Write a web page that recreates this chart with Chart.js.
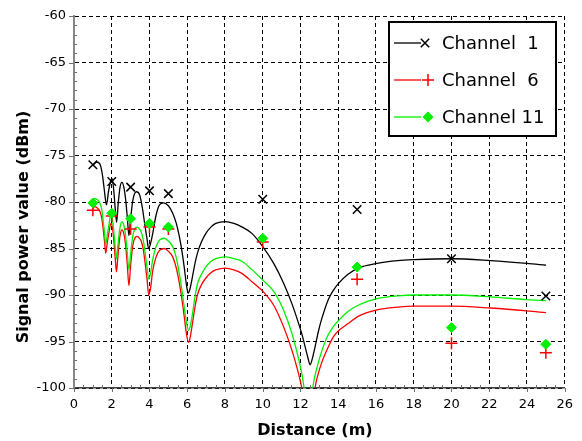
<!DOCTYPE html>
<html>
<head>
<meta charset="utf-8">
<script src="https://cdn.jsdelivr.net/npm/chart.js@4.4.1/dist/chart.umd.min.js"></script>
<style>
html,body{margin:0;padding:0;background:#fff;}
canvas{display:block;}
</style>
</head>
<body>
<canvas id="c" width="582" height="441"></canvas>
<script>
// ---- Data ----
const seriesNames = ["Channel  1", "Channel  6", "Channel 11"];
const xTickLabels = [0, 2, 4, 6, 8, 10, 12, 14, 16, 18, 20, 22, 24, 26];
const yTickLabels = [-100, -95, -90, -85, -80, -75, -70, -65, -60];

// measured points (markers)
const markerX = [1, 2, 3, 4, 5, 10, 15, 20, 25];
const ch1Measured = [-76.0, -77.8, -78.4, -78.8, -79.1, -79.7, -80.8, -86.1, -90.1];
const ch6Measured = [-80.9, -81.5, -82.9, -82.7, -82.9, -84.3, -88.3, -95.2, -96.2];
const ch11Measured = [-80.1, -81.2, -81.8, -82.3, -82.7, -83.9, -87.0, -93.5, -95.3];

// model curves
const ch1CurveX = [1.0,1.2,1.37,1.5,1.6,1.72,1.82,1.92,2.02,2.1,2.18,2.26,2.34,2.44,2.54,2.64,2.74,2.83,2.91,3.0,3.12,3.3,3.47,3.62,3.75,3.87,3.95,4.05,4.17,4.35,4.53,4.74,5.0,5.23,5.42,5.58,5.72,5.84,5.95,6.05,6.15,6.28,6.4,6.54,6.75,6.98,7.25,7.51,8.03,8.47,8.91,9.44,10.0,10.58,11.1,11.54,11.89,12.1,12.25,12.4,12.51,12.62,12.77,12.95,13.12,13.47,13.74,14.04,14.5,15.05,16.05,17.16,18.03,20.0,22.07,24.0,25.0];
const ch1CurveY = [-76.1,-75.7,-75.9,-77.0,-78.6,-80.3,-79.0,-77.9,-77.5,-78.6,-80.6,-82.2,-80.2,-78.4,-77.9,-78.4,-79.8,-81.8,-83.6,-81.8,-79.8,-78.9,-79.2,-80.6,-82.4,-84.0,-85.0,-84.5,-83.4,-81.4,-80.3,-80.1,-80.4,-81.2,-82.3,-83.7,-85.3,-87.0,-88.8,-89.8,-89.3,-88.0,-86.7,-85.5,-84.3,-83.4,-82.7,-82.3,-82.1,-82.3,-82.7,-83.4,-84.8,-86.6,-88.7,-90.9,-93.0,-94.4,-95.6,-96.8,-97.5,-96.9,-95.6,-93.9,-92.6,-90.5,-89.5,-88.7,-87.8,-87.1,-86.6,-86.3,-86.2,-86.1,-86.3,-86.6,-86.8];

const ch11CurveX = [1.0,1.1,1.2,1.37,1.47,1.54,1.62,1.68,1.76,1.84,1.92,1.98,2.06,2.12,2.19,2.25,2.32,2.39,2.47,2.54,2.64,2.72,2.82,2.91,3.0,3.12,3.25,3.35,3.47,3.56,3.67,3.77,3.87,3.96,4.06,4.17,4.35,4.53,4.79,5.0,5.23,5.42,5.58,5.72,5.84,5.96,6.07,6.17,6.28,6.4,6.54,6.75,6.98,7.25,7.51,8.03,8.47,8.91,9.44,10.0,10.58,11.1,11.54,11.89,12.1,12.3,12.45,12.58,12.68,12.85,13.04,13.39,13.74,14.04,14.5,15.05,16.05,17.16,18.03,20.0,22.07,24.0,25.0];
const ch11CurveY = [-80.0,-79.6,-79.7,-80.1,-80.8,-81.9,-83.4,-84.5,-83.6,-82.6,-81.6,-81.4,-82.2,-83.4,-85.0,-86.1,-84.8,-83.4,-82.4,-82.1,-82.5,-83.4,-85.4,-87.3,-85.6,-83.6,-82.8,-82.7,-82.9,-83.2,-84.1,-85.5,-87.0,-88.3,-87.6,-86.2,-84.8,-84.1,-83.9,-84.2,-84.8,-86.0,-87.7,-89.5,-91.3,-92.9,-93.8,-93.3,-92.0,-90.3,-88.8,-87.8,-87.0,-86.4,-86.1,-85.9,-86.1,-86.4,-87.3,-88.4,-89.6,-91.6,-94.1,-96.8,-98.8,-101.5,-103.0,-101.5,-99.6,-98.0,-96.6,-94.6,-93.4,-92.7,-91.8,-91.1,-90.4,-90.1,-90.0,-90.0,-90.2,-90.5,-90.6];

const ch6CurveX = [1.0,1.1,1.2,1.37,1.47,1.54,1.62,1.68,1.76,1.84,1.92,1.98,2.06,2.12,2.19,2.25,2.32,2.39,2.47,2.54,2.64,2.72,2.82,2.91,3.0,3.12,3.25,3.35,3.47,3.56,3.67,3.77,3.87,3.96,4.06,4.17,4.35,4.53,4.79,5.0,5.23,5.42,5.58,5.72,5.84,5.96,6.07,6.17,6.28,6.4,6.54,6.75,6.98,7.25,7.51,8.03,8.47,8.91,9.44,10.0,10.58,11.1,11.54,11.89,12.07,12.3,12.45,12.6,12.77,12.95,13.12,13.47,13.74,14.04,14.5,15.05,16.05,17.16,18.03,20.0,22.07,24.0,25.0];
const ch6CurveY = [-80.7,-80.5,-80.6,-81.0,-81.7,-82.8,-84.3,-85.5,-84.4,-83.4,-82.5,-82.3,-83.1,-84.4,-86.2,-87.5,-86.0,-84.4,-83.3,-83.0,-83.4,-84.4,-86.6,-89.0,-86.8,-84.6,-83.8,-83.7,-83.9,-84.2,-85.1,-86.6,-88.3,-90.0,-89.2,-87.4,-85.9,-85.2,-85.0,-85.3,-85.9,-87.1,-88.7,-90.5,-92.3,-94.2,-95.1,-94.4,-93.0,-91.4,-90.0,-88.9,-88.2,-87.6,-87.3,-87.1,-87.3,-87.7,-88.6,-89.6,-91.1,-93.4,-95.9,-98.4,-100.0,-103.0,-105.0,-103.0,-100.0,-98.4,-97.3,-95.6,-94.5,-93.8,-93.1,-92.3,-91.6,-91.3,-91.2,-91.2,-91.4,-91.7,-91.9];

// ---- helpers ----
const pts = (xs, ys) => xs.map((x, i) => ({x: x, y: ys[i]}));
const COLORS = ['#000000', '#ff0000', '#00f000'];
const STYLES = ['crossRot', 'cross', 'rectRot'];

const FONT = "'DejaVu Sans', Verdana, sans-serif";

function drawMarker(ctx, style, x, y, color) {
  ctx.save();
  ctx.strokeStyle = color; ctx.fillStyle = color; ctx.lineWidth = 1.5;
  ctx.beginPath();
  if (style === 'crossRot') {
    const d = 4.2;
    ctx.moveTo(x - d, y - d); ctx.lineTo(x + d, y + d);
    ctx.moveTo(x + d, y - d); ctx.lineTo(x - d, y + d);
    ctx.stroke();
  } else if (style === 'cross') {
    const d = 6;
    ctx.moveTo(x - d, y); ctx.lineTo(x + d, y);
    ctx.moveTo(x, y - d); ctx.lineTo(x, y + d);
    ctx.stroke();
  } else {
    const d = 5.5;
    ctx.moveTo(x - d, y); ctx.lineTo(x, y - d); ctx.lineTo(x + d, y); ctx.lineTo(x, y + d);
    ctx.closePath(); ctx.fill();
  }
  ctx.restore();
}

const decorPlugin = {
  id: 'decor',
  afterDraw(chart) {
    const ctx = chart.ctx;
    const xs = chart.scales.x, ys = chart.scales.y;
    const ca = chart.chartArea;
    ctx.save();
    // minor ticks (inside) and major ticks (outside)
    ctx.strokeStyle = '#707070';
    ctx.lineWidth = 1;
    ctx.beginPath();
    for (let v = 0; v <= 26.001; v += 0.5) {
      const px = Math.round(xs.getPixelForValue(v)) + 0.5;
      if (Math.abs(v / 2 - Math.round(v / 2)) < 1e-6) {
        ctx.moveTo(px, ca.bottom); ctx.lineTo(px, ca.bottom + 4);
      } else {
        ctx.moveTo(px, ca.bottom); ctx.lineTo(px, ca.bottom - 3);
      }
    }
    for (let v = -100; v <= -60; v += 1) {
      const py = Math.round(ys.getPixelForValue(v)) + 0.5;
      if (v % 5 === 0) {
        ctx.moveTo(ca.left, py); ctx.lineTo(ca.left - 5, py);
      } else {
        ctx.moveTo(ca.left, py); ctx.lineTo(ca.left + 3, py);
      }
    }
    ctx.stroke();

    // axis titles
    ctx.fillStyle = '#000';
    ctx.font = "bold 16px " + FONT;
    ctx.textAlign = 'center';
    ctx.textBaseline = 'alphabetic';
    ctx.fillText('Distance (m)', 315, 435);
    ctx.save();
    ctx.translate(28, 227);
    ctx.rotate(-Math.PI / 2);
    ctx.fillText('Signal power value (dBm)', 0, 0);
    ctx.restore();

    // legend
    const bx = 389, by = 22, bw = 167, bh = 114;
    ctx.fillStyle = '#fff';
    ctx.fillRect(bx, by, bw, bh);
    ctx.strokeStyle = '#000';
    ctx.lineWidth = 2;
    ctx.strokeRect(bx, by, bw, bh);
    const rows = [43, 80, 117];
    ctx.font = "18px " + FONT;
    ctx.textAlign = 'left';
    ctx.textBaseline = 'middle';
    for (let i = 0; i < 3; i++) {
      const y = rows[i];
      ctx.strokeStyle = COLORS[i];
      ctx.lineWidth = 1.3;
      ctx.beginPath();
      ctx.moveTo(394, y); ctx.lineTo(421, y);
      ctx.stroke();
      drawMarker(ctx, STYLES[i], i === 0 ? 425 : 428, y, COLORS[i]);
      ctx.fillStyle = '#000';
      ctx.fillText(seriesNames[i], 442, y + 1);
    }
    ctx.restore();
  }
};

const curveSet = (label, data, color, order) => ({
  type: 'line', label: label, data: data,
  borderColor: color, backgroundColor: color,
  borderWidth: 1.3, pointRadius: 0, cubicInterpolationMode: 'monotone', fill: false, order: order
});
const markerSet = (label, data, color, style, radius, order) => ({
  type: 'line', label: label, data: data, showLine: false,
  pointStyle: style, pointRadius: radius, pointHoverRadius: radius,
  borderColor: color, backgroundColor: color,
  pointBorderWidth: style === 'rectRot' ? 1 : 1.5, order: order
});

new Chart(document.getElementById('c'), {
  type: 'line',
  data: {
    datasets: [
      markerSet(seriesNames[2] + ' meas', pts(markerX, ch11Measured), COLORS[2], 'rectRot', 5, 1),
      markerSet(seriesNames[1] + ' meas', pts(markerX, ch6Measured), COLORS[1], 'cross', 6, 2),
      markerSet(seriesNames[0] + ' meas', pts(markerX, ch1Measured), COLORS[0], 'crossRot', 6, 3),
      curveSet(seriesNames[2], pts(ch11CurveX, ch11CurveY), COLORS[2], 4),
      curveSet(seriesNames[1], pts(ch6CurveX, ch6CurveY), COLORS[1], 5),
      curveSet(seriesNames[0], pts(ch1CurveX, ch1CurveY), COLORS[0], 6)
    ]
  },
  options: {
    responsive: false,
    animation: false,
    layout: { padding: { left: 0, right: 14, top: 16, bottom: 0 } },
    plugins: { legend: { display: false }, tooltip: { enabled: false }, title: { display: false } },
    scales: {
      x: {
        type: 'linear', min: 0, max: 26,
        afterFit(s) { s.height = 53; },
        ticks: {
          stepSize: 2, padding: 9, color: '#000',
          font: { family: FONT, size: 13 },
          callback: (v) => xTickLabels.includes(v) ? String(v) : ''
        },
        grid: { color: '#000', lineWidth: 1, drawTicks: false, borderDash: [4, 3] },
        border: { display: true, color: '#404040', width: 1.5, dash: [4, 3] }
      },
      y: {
        type: 'linear', min: -100, max: -60,
        afterFit(s) { s.width = 74; },
        ticks: {
          stepSize: 5, padding: 8, color: '#000',
          font: { family: FONT, size: 13 },
          callback: (v) => yTickLabels.includes(v) ? String(v) : ''
        },
        grid: { color: '#000', lineWidth: 1, drawTicks: false, borderDash: [4, 3] },
        border: { display: true, color: '#888', width: 2, dash: [4, 3] }
      }
    }
  },
  plugins: [decorPlugin]
});
</script>
</body>
</html>
